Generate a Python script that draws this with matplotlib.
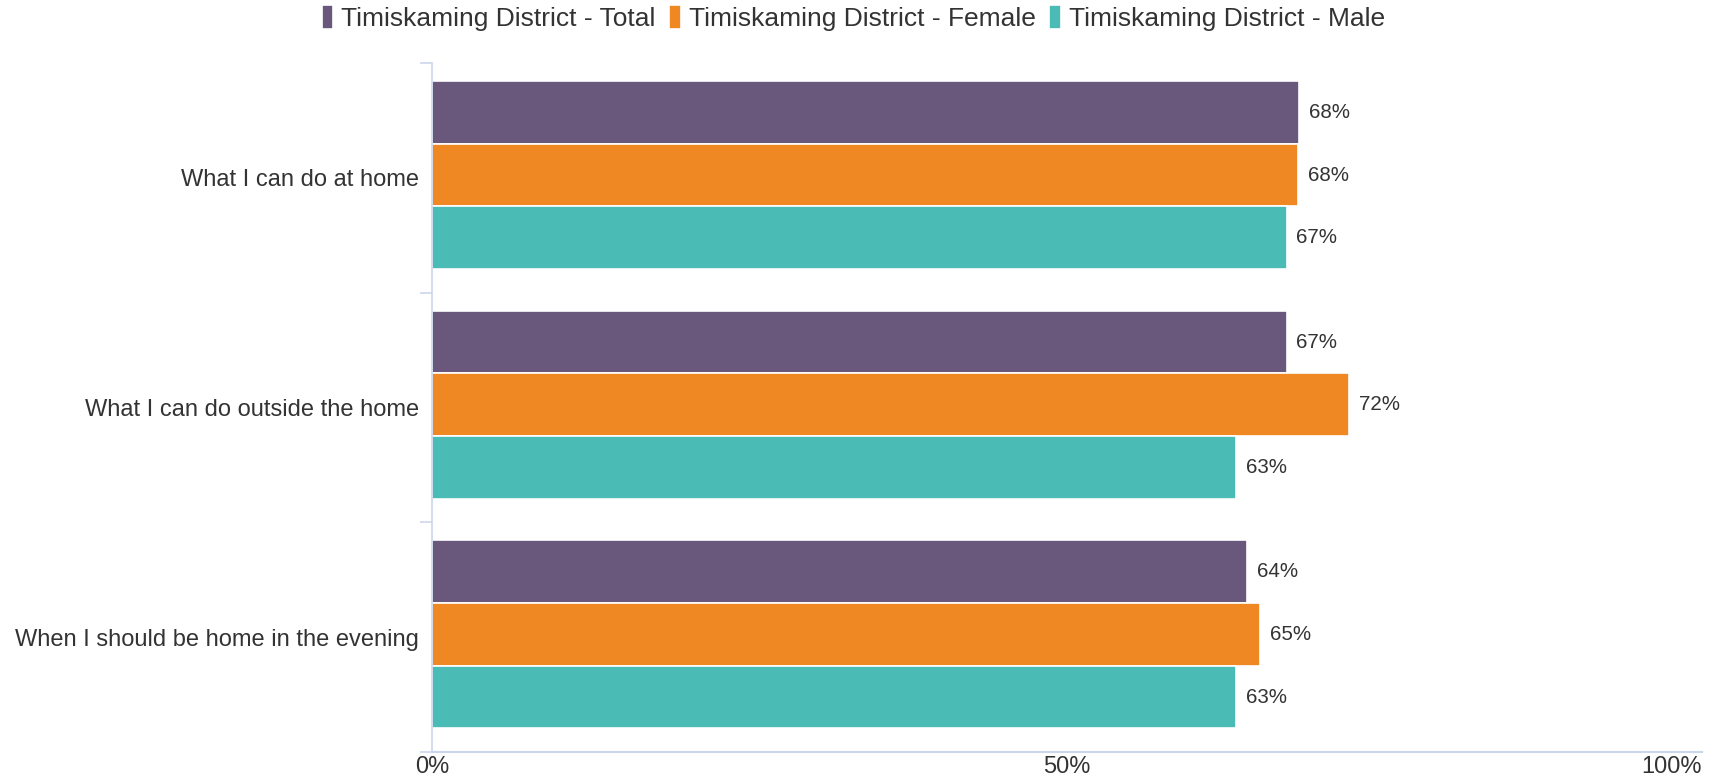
import numpy as np
import matplotlib.pyplot as plt
from matplotlib.ticker import FixedLocator

plt.rcParams['font.family'] = ['Liberation Sans', 'DejaVu Sans']

categories = ["What I can do at home",
              "What I can do outside the home",
              "When I should be home in the evening"]
series_names = ["Timiskaming District - Total",
                "Timiskaming District - Female",
                "Timiskaming District - Male"]
total = [68.3, 67.3, 64.2]
female = [68.2, 72.2, 65.2]
male = [67.3, 63.3, 63.3]
colors = ["#6a577c", "#ef8723", "#4bbbb5"]
xtick_vals = [0, 50, 100]
xtick_labels = ["0%", "50%", "100%"]

fig = plt.figure(figsize=(17.27, 7.75), dpi=100)
ax = fig.add_axes([0.25, 0.0297, 0.7355, 0.889])

y = np.arange(len(categories))
bh = 0.273
series = [total, female, male]
for i, (vals, name, col) in enumerate(zip(series, series_names, colors)):
    pos = y + (i - 1) * bh - 0.012
    bars = ax.barh(pos, vals, height=bh, color=col, edgecolor="white",
                   linewidth=1.2, label=name)
    for b, v in zip(bars, vals):
        ax.annotate(f"{v:.0f}%", (v, b.get_y() + b.get_height() / 2),
                    xytext=(7, 0), textcoords="offset points",
                    va="center", ha="left", fontsize=14.8, color="#333333")

ax.set_xlim(0, 100)
ax.set_ylim(len(categories) - 0.5, -0.5)
ax.set_yticks(y)
ax.set_yticklabels(categories, fontsize=17, color="#333333")
ax.yaxis.set_minor_locator(FixedLocator(np.arange(-0.5, len(categories), 1)))
ax.tick_params(axis="y", which="major", length=0, pad=9)
ax.tick_params(axis="y", which="minor", length=9, width=1.2, color="#ccd6eb")

ax.set_xticks(xtick_vals)
ax.set_xticklabels(xtick_labels, fontsize=17, color="#333333")
ax.tick_params(axis="x", length=0, pad=3)
ax.get_xticklabels()[-1].set_ha("right")

for s in ["top", "right"]:
    ax.spines[s].set_visible(False)
ax.spines["left"].set_color("#ccd6eb")
ax.spines["bottom"].set_color("#ccd6eb")
ax.spines["left"].set_linewidth(1.2)
ax.spines["bottom"].set_linewidth(1.5)

fig.legend(loc="center", bbox_to_anchor=(0.494, 0.977), ncol=3, frameon=False,
           fontsize=19, handlelength=0.45, handleheight=1.0, handletextpad=0.3,
           columnspacing=0.5, labelcolor="#333333")

fig.savefig("out.png", dpi=100)
